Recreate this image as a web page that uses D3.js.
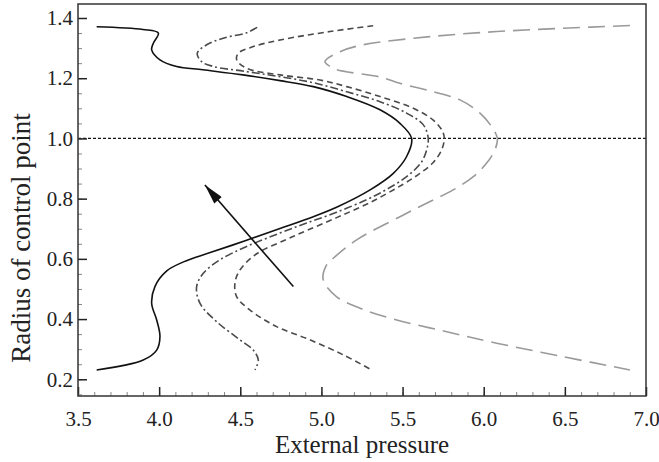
<!DOCTYPE html>
<html lang="en">
<head>
<meta charset="utf-8">
<script src="https://d3js.org/d3.v7.min.js"></script>
<style>
  body { margin: 0; background: white; }
  text { font-family: "Liberation Serif", "Times New Roman", serif; fill: #222; }
</style>
</head>
<body>
<div id="chart"></div>
<script>
// curves: [pressure, radius]
var solidCurve = [[3.615,1.371],[3.90,1.362],[3.995,1.350],[3.964,1.316],[3.954,1.294],[4.005,1.261],[4.108,1.239],[4.27,1.228],[4.517,1.211],[4.745,1.192],[4.95,1.172],[5.156,1.139],[5.361,1.095],[5.484,1.050],[5.556,1.0],[5.525,0.940],[5.443,0.884],[5.30,0.829],[5.10,0.773],[4.95,0.740],[4.74,0.700],[4.53,0.660],[4.31,0.620],[4.15,0.590],[4.047,0.560],[3.974,0.508],[3.954,0.452],[3.985,0.397],[4.005,0.342],[3.985,0.297],[3.902,0.264],[3.615,0.231]]
var dashDotCurve = [[4.604,1.369],[4.539,1.351],[4.395,1.333],[4.293,1.311],[4.235,1.283],[4.262,1.255],[4.334,1.239],[4.539,1.222],[4.745,1.205],[4.95,1.185],[5.156,1.155],[5.361,1.122],[5.525,1.084],[5.628,1.045],[5.658,1.0],[5.645,0.956],[5.612,0.918],[5.525,0.873],[5.40,0.830],[5.28,0.797],[5.094,0.755],[4.909,0.719],[4.745,0.686],[4.539,0.641],[4.375,0.597],[4.272,0.552],[4.231,0.508],[4.252,0.452],[4.355,0.391],[4.498,0.331],[4.58,0.297],[4.611,0.264],[4.59,0.231]]
var dashedCurve = [[5.319,1.374],[5.053,1.355],[4.745,1.327],[4.58,1.305],[4.488,1.283],[4.478,1.261],[4.539,1.233],[4.745,1.211],[4.991,1.194],[5.156,1.172],[5.361,1.139],[5.566,1.100],[5.689,1.061],[5.745,1.025],[5.757,1.0],[5.741,0.962],[5.689,0.920],[5.607,0.884],[5.504,0.848],[5.299,0.787],[5.094,0.737],[4.909,0.694],[4.770,0.661],[4.601,0.617],[4.498,0.563],[4.467,0.519],[4.478,0.474],[4.56,0.430],[4.724,0.375],[4.929,0.331],[5.135,0.281],[5.31,0.231]]
var longDashCurve = [[6.901,1.375],[6.49,1.366],[6.08,1.355],[5.669,1.338],[5.256,1.311],[5.114,1.288],[5.022,1.255],[5.053,1.239],[5.094,1.228],[5.361,1.204],[5.484,1.183],[5.689,1.155],[5.854,1.128],[5.977,1.084],[6.049,1.039],[6.084,1.0],[6.069,0.962],[6.018,0.918],[5.936,0.873],[5.812,0.829],[5.648,0.785],[5.484,0.740],[5.217,0.663],[5.073,0.602],[5.032,0.580],[5.011,0.530],[5.094,0.474],[5.238,0.436],[5.464,0.397],[5.772,0.358],[6.08,0.320],[6.49,0.275],[6.901,0.231]]
var refLine = 1.0
var arrowFrom = [4.827, 0.508]
var arrowTo = [4.282, 0.845]
var xTicks = [3.5, 4.0, 4.5, 5.0, 5.5, 6.0, 6.5, 7.0]
var yTicks = [0.2, 0.4, 0.6, 0.8, 1.0, 1.2, 1.4]

var width = 659, height = 462
var margin = {top: 4, right: 13, bottom: 66, left: 78}

var svg = d3.select("#chart").append("svg")
  .attr("width", width).attr("height", height)

var x = d3.scaleLinear().domain([3.5, 7.0]).range([margin.left, width - margin.right])
var y = d3.scaleLinear().domain([0.1445, 1.4465]).range([height - margin.bottom, margin.top])

var line = d3.line()
  .x(function(d) { return x(d[0]) })
  .y(function(d) { return y(d[1]) })
  .curve(d3.curveCatmullRom.alpha(0.5))

// dotted reference line at r = 1
svg.append("line")
  .attr("x1", x(3.5)).attr("x2", x(7.0))
  .attr("y1", y(refLine)).attr("y2", y(refLine))
  .attr("stroke", "#111").attr("stroke-width", 1.3)
  .attr("stroke-dasharray", "3,2")

var series = [
  {data: longDashCurve, color: "#9a9a9a", dash: "17,8", w: 1.6},
  {data: dashedCurve, color: "#4a4a4a", dash: "6,4", w: 1.6},
  {data: dashDotCurve, color: "#4a4a4a", dash: "8,3,2,3", w: 1.6},
  {data: solidCurve, color: "#111", dash: null, w: 1.6}
]
series.forEach(function(s) {
  svg.append("path")
    .attr("d", line(s.data))
    .attr("fill", "none")
    .attr("stroke", s.color)
    .attr("stroke-width", s.w)
    .attr("stroke-dasharray", s.dash)
})

// arrow
svg.append("defs").append("marker")
  .attr("id", "head")
  .attr("viewBox", "0 0 20 10")
  .attr("refX", 20).attr("refY", 5)
  .attr("markerWidth", 21).attr("markerHeight", 10)
  .attr("markerUnits", "userSpaceOnUse")
  .attr("orient", "auto")
  .append("path").attr("d", "M0,0 L20,5 L0,10 Z").attr("fill", "#111")

svg.append("line")
  .attr("x1", x(arrowFrom[0])).attr("y1", y(arrowFrom[1]))
  .attr("x2", x(arrowTo[0])).attr("y2", y(arrowTo[1]))
  .attr("stroke", "#111").attr("stroke-width", 1.6)
  .attr("marker-end", "url(#head)")

// axes with inward ticks
var xMinor = d3.range(3.5, 7.001, 0.1)
var yMinor = d3.range(0.15, 1.446, 0.05)

var gx = svg.append("g").attr("transform", "translate(0," + (height - margin.bottom) + ")")
gx.call(d3.axisBottom(x).tickValues(xMinor).tickSize(-4).tickFormat(""))
gx.select(".domain").remove()
gx.selectAll("line").attr("stroke", "#888")
var gx2 = svg.append("g").attr("transform", "translate(0," + (height - margin.bottom) + ")")
gx2.call(d3.axisBottom(x).tickValues(xTicks).tickSize(-9).tickPadding(15).tickFormat(d3.format(".1f")))
gx2.select(".domain").remove()
gx2.selectAll("line").attr("stroke", "#222").attr("stroke-width", 1.5)
gx2.selectAll("text").style("font-size", "21px")

var gy = svg.append("g").attr("transform", "translate(" + margin.left + ",0)")
gy.call(d3.axisLeft(y).tickValues(yMinor).tickSize(-4).tickFormat(""))
gy.select(".domain").remove()
gy.selectAll("line").attr("stroke", "#888")
var gy2 = svg.append("g").attr("transform", "translate(" + margin.left + ",0)")
gy2.call(d3.axisLeft(y).tickValues(yTicks).tickSize(-9).tickPadding(5).tickFormat(d3.format(".1f")))
gy2.select(".domain").remove()
gy2.selectAll("line").attr("stroke", "#222").attr("stroke-width", 1.5)
gy2.selectAll("text").style("font-size", "21px")

// frame
svg.append("rect")
  .attr("x", margin.left).attr("y", margin.top)
  .attr("width", width - margin.left - margin.right)
  .attr("height", height - margin.top - margin.bottom)
  .attr("fill", "none").attr("stroke", "#333").attr("stroke-width", 1.5)

svg.append("text")
  .attr("x", (margin.left + width - margin.right) / 2).attr("y", 453)
  .attr("text-anchor", "middle").style("font-size", "25px")
  .text("External pressure")

svg.append("text")
  .attr("transform", "translate(30,238) rotate(-90)")
  .attr("text-anchor", "middle").style("font-size", "27px")
  .text("Radius of control point")
</script>
</body>
</html>
